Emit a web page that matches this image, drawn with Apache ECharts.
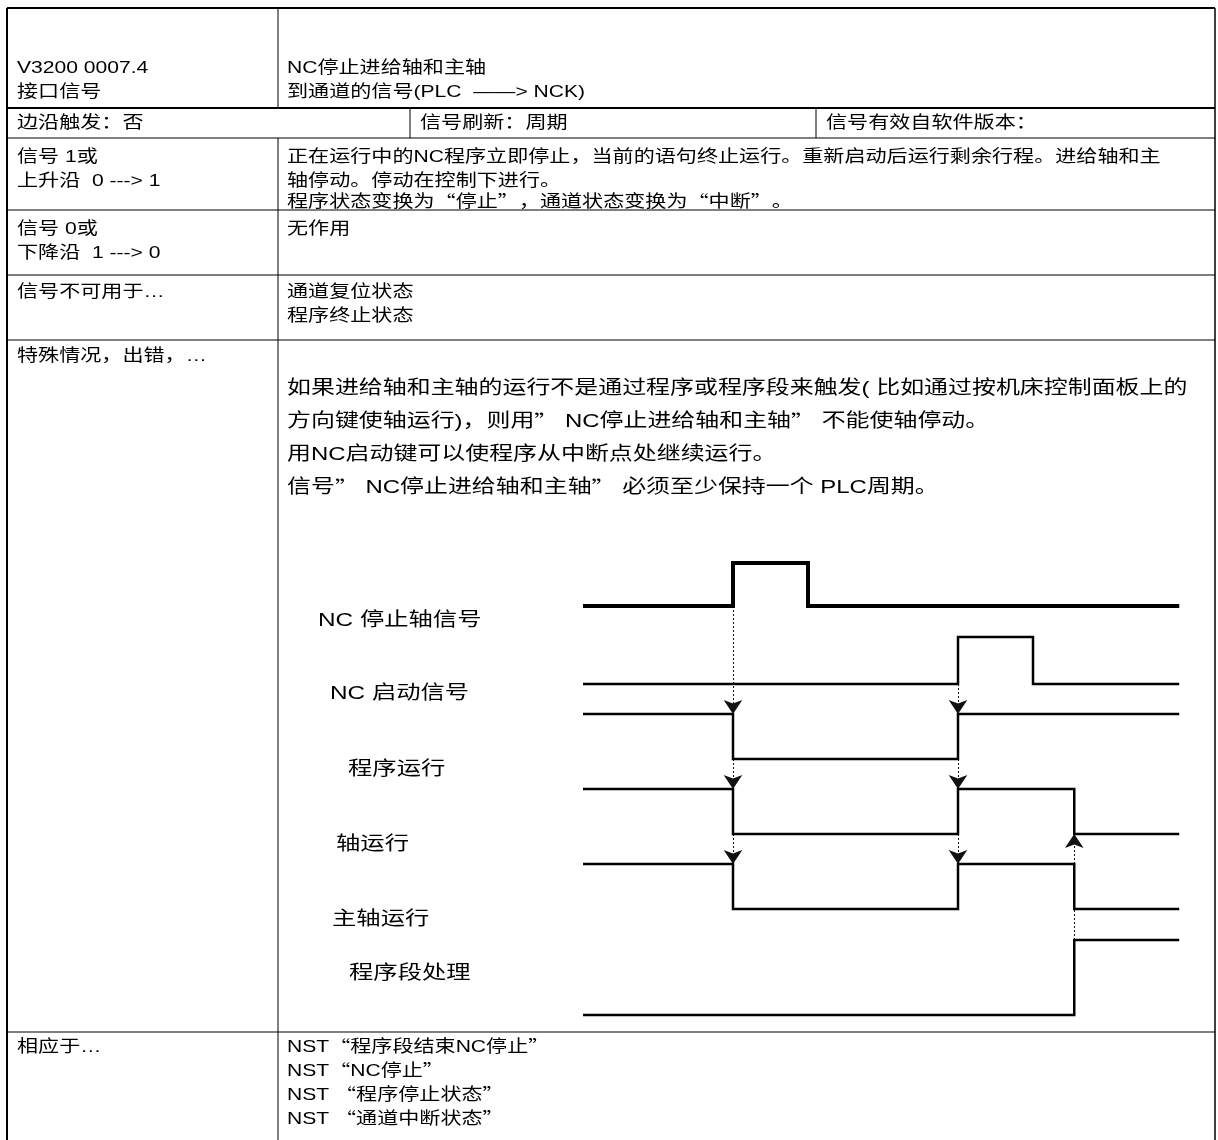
<!DOCTYPE html>
<html><head><meta charset="utf-8">
<script src="https://cdn.jsdelivr.net/npm/echarts@6/dist/echarts.min.js"></script>
<style>html,body{margin:0;padding:0;background:#fff}#c{width:1218px;height:1140px}</style>
</head><body><div id="c"></div>
<script>
// ---------- data ----------
const signalNames = ['NC 停止轴信号', 'NC 启动信号', '程序运行', '轴运行', '主轴运行', '程序段处理'];
const initialLevels = [0, 0, 1, 1, 1, 0];
const edgeTimes = [[20, 30], [50, 60], [20, 50], [20, 50, 65.5], [20, 50, 65.5], [65.5]];
const timeSpan = [0, 79.5];
// arrows: [time, fromSignal, fromLevel, toSignal, toLevel]
const arrowLinks = [
  [20, 0, 0, 2, 1], [20, 2, 0, 3, 1], [20, 3, 0, 4, 1],
  [50, 1, 0, 2, 1], [50, 2, 0, 3, 1], [50, 3, 0, 4, 1],
  [65.5, 5, 1, 3, 0]
];
const headerLeft = ['V3200 0007.4', '接口信号'];
const headerRight = ['NC停止进给轴和主轴', '到通道的信号(PLC  ——> NCK)'];
const row2Texts = ['边沿触发：否', '信号刷新：周期', '信号有效自软件版本：'];
const rowLabels = [['信号 1或', '上升沿  0 ---> 1'], ['信号 0或', '下降沿  1 ---> 0'], ['信号不可用于…'], ['特殊情况，出错，…'], ['相应于…']];
const rowContents = [
  ['正在运行中的NC程序立即停止，当前的语句终止运行。重新启动后运行剩余行程。进给轴和主', '轴停动。停动在控制下进行。', '程序状态变换为“停止”，通道状态变换为“中断”。'],
  ['无作用'],
  ['通道复位状态', '程序终止状态'],
  ['如果进给轴和主轴的运行不是通过程序或程序段来触发( 比如通过按机床控制面板上的', '方向键使轴运行)，则用” NC停止进给轴和主轴” 不能使轴停动。', '用NC启动键可以使程序从中断点处继续运行。', '信号” NC停止进给轴和主轴” 必须至少保持一个 PLC周期。'],
  ['NST“程序段结束NC停止”', 'NST“NC停止”', 'NST “程序停止状态”', 'NST “通道中断状态”']
];

// ---------- layout ----------
const FONT = '"Liberation Sans", Arial, "Noto Sans CJK SC", sans-serif';
const CJK = '"Noto Sans CJK SC", sans-serif';
const L = 7, R = 1215, COL = 278, BOTTOM = 1140;
const rowY = [8, 108, 138, 210, 275, 340, 1032];
const laneHigh = [8, 82, 159, 234, 309, 385];
const laneLow = [51, 129, 204, 279, 354, 460];
const labelPos = [[318, 621], [330, 694], [348, 770], [336, 845], [332, 920], [349, 974]];
const lineH = 24;

const g = [];
function line(x1, y1, x2, y2, w) {
  g.push({type: 'line', shape: {x1, y1, x2, y2}, style: {stroke: '#000', lineWidth: w || 1}, silent: true});
}
function text(x, y, s, size, sx) {
  size = size || 17;
  const rich = s.replace(/[“”]/g, m => '{q|' + m + '}');
  g.push({type: 'text', x, y, scaleX: sx || 1.24, silent: true,
    style: {text: rich, fill: '#000', font: size + 'px ' + FONT, verticalAlign: 'middle',
      rich: {q: {fontFamily: CJK, fontSize: size, fill: '#000'}}}});
}
// borders
line(L, rowY[0], R, rowY[0], 2);
line(L, rowY[0], L, BOTTOM, 2);
line(R, rowY[0], R, BOTTOM, 1.5);
line(L, rowY[1], R, rowY[1], 2);
for (let i = 2; i < rowY.length; i++) line(L, rowY[i], R, rowY[i], 1);
line(COL, rowY[0], COL, rowY[1], 1);
line(COL, rowY[2], COL, BOTTOM, 1);
line(410, rowY[1], 410, rowY[2], 1);
line(816, rowY[1], 816, rowY[2], 1);
// header texts
headerLeft.forEach((s, i) => text(17, 68 + i * lineH, s));
headerRight.forEach((s, i) => text(287, 68 + i * lineH, s));
[17, 420, 826].forEach((x, i) => text(x, 123, row2Texts[i]));
const rowStart = [157, 229, 292, 356, 1047];
rowLabels.forEach((lines, r) => lines.forEach((s, i) => text(17, rowStart[r] + i * lineH, s)));
rowContents.forEach((lines, r) => {
  if (r === 3) lines.forEach((s, i) => text(287, 389 + i * 33, s, 19, 1.26));
  else lines.forEach((s, i) => text(287, rowStart[r] + i * (r === 0 && i === 2 ? 22.5 : lineH), s));
});
signalNames.forEach((s, i) => text(labelPos[i][0], labelPos[i][1], s, 19, 1.28));

// ---------- series ----------
function laneY(sig, level) { return level ? laneHigh[sig] : laneLow[sig]; }
const series = signalNames.map((name, i) => {
  let lv = initialLevels[i];
  const pts = [[timeSpan[0], laneY(i, lv)]];
  edgeTimes[i].forEach(t => { pts.push([t, laneY(i, lv)]); lv = 1 - lv; pts.push([t, laneY(i, lv)]); });
  pts.push([timeSpan[1], laneY(i, lv)]);
  return {type: 'line', name, data: pts, symbol: 'none', silent: true,
    lineStyle: {color: '#000', width: i === 0 ? 4 : 2.5, join: 'miter', cap: 'butt'}};
});
series.push({
  type: 'lines', coordinateSystem: 'cartesian2d', silent: true,
  symbol: ['none', 'arrow'], symbolSize: [8, 14],
  lineStyle: {color: '#111', width: 1, type: [2, 2], opacity: 1},
  data: arrowLinks.map(a => ({coords: [[a[0], laneY(a[1], a[2])], [a[0], laneY(a[3], a[4])]]}))
});

const chart = echarts.init(document.getElementById('c'), null, {renderer: 'canvas'});
chart.setOption({
  animation: false,
  backgroundColor: '#fff',
  grid: {left: 583, top: 555, width: 600, height: 465},
  xAxis: {type: 'value', min: 0, max: 80, show: false},
  yAxis: {type: 'value', min: 0, max: 465, inverse: true, show: false},
  series,
  graphic: {elements: g}
});
</script></body></html>
